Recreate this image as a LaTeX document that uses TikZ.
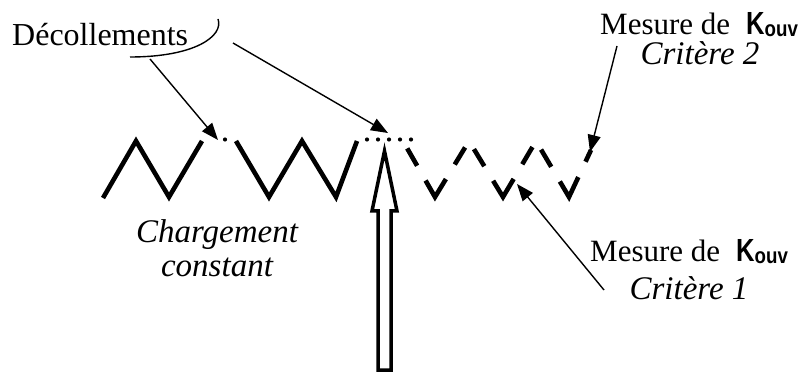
\documentclass[tikz,border=0pt]{standalone}
\usepackage{fontspec}
\setmainfont{Liberation Serif}
\newfontfamily\kfont{Liberation Sans}[BoldFont={* Bold}]
\usetikzlibrary{arrows.meta}
\newcommand{\Kouv}{{\kfont\bfseries\fontsize{32}{32}\selectfont\scalebox{0.8}[1]{K}}{\kfont\bfseries\fontsize{22}{22}\selectfont\raisebox{-1.5pt}{\scalebox{0.85}[1]{ouv}}}}
\begin{document}
\begin{tikzpicture}[x=1pt,y=-1pt,
  lbl/.style={inner sep=0pt,anchor=base west,font=\fontsize{32}{36}\selectfont},
  mlbl/.style={inner sep=0pt,anchor=base west,font=\fontsize{31}{36}\selectfont},
  ilbl/.style={inner sep=0pt,anchor=base,font=\fontsize{33}{36}\selectfont\itshape},
  zig/.style={line width=4.6pt},
  zdash/.style={line width=4.6pt,dash pattern=on 20pt off 17pt on 40pt off 17pt on 20pt off 17pt,dash phase=122.5pt},
  pointer/.style={line width=1.4pt,-{Triangle[length=17pt,width=13pt]}},
  dotc/.style={circle,fill=black,inner sep=0pt,minimum size=4.2pt}]
\useasboundingbox (0,0) rectangle (804,374);
% solid zigzag
\draw[zig] (103,198) -- (136,141) -- (169,197) -- (202,141);
\draw[zig] (236,141) -- (269,197) -- (302,141) -- (336,197) -- (357,141);
% dots
\node[dotc] (da1) at (225,139.5) {};
\foreach \i/\x in {1/367,2/378,3/389,4/400,5/411}{\node[dotc] (db\i) at (\x,139.5) {};}
% dashed zigzag
\draw[zdash] (403,141) -- (435,197) -- (469,141) -- (503,197) -- (536,141) -- (569,197) -- (591,150);
% hollow arrow
\draw[line width=3.5pt,fill=white,line join=miter] (378,370) -- (391,370) -- (391,211) -- (397,211) -- (384.5,151) -- (372,211) -- (378,211) -- cycle;
% texts
\node[lbl] (dec) at (12,46) {Décollements};
\node[ilbl] (ch1) at (217,243) {Chargement};
\node[ilbl] (ch2) at (217,277) {constant};
\node[mlbl] (m2) at (600,35) {Mesure de};
\node[mlbl] (k2) at (746,35) {\Kouv};
\node[ilbl] (c2) at (700,65) {Critère 2};
\node[mlbl] (m1) at (590,262) {Mesure de};
\node[mlbl] (k1) at (736,262) {\Kouv};
\node[ilbl] (c1) at (689,300) {Critère 1};
% curve under Décollements
\coordinate (cs) at (130,57);
\coordinate (ce) at (218,19);
\draw[line width=1.4pt] (cs) .. controls (195,57) and (224,36) .. (ce);
% pointers
\coordinate (a1s) at (150,59);
\coordinate (a1e) at (218,140);
\coordinate (a2s) at (233,43);
\coordinate (a2e) at (388,133);
\coordinate (a3s) at (617,46);
\coordinate (a3e) at (590,152);
\coordinate (a4s) at (604,290);
\coordinate (a4e) at (517,184);
\draw[pointer] (a1s) -- (a1e);
\draw[pointer] (a2s) -- (a2e);
\draw[pointer] (a3s) -- (a3e);
\draw[pointer] (a4s) -- (a4e);
\end{tikzpicture}
\end{document}
